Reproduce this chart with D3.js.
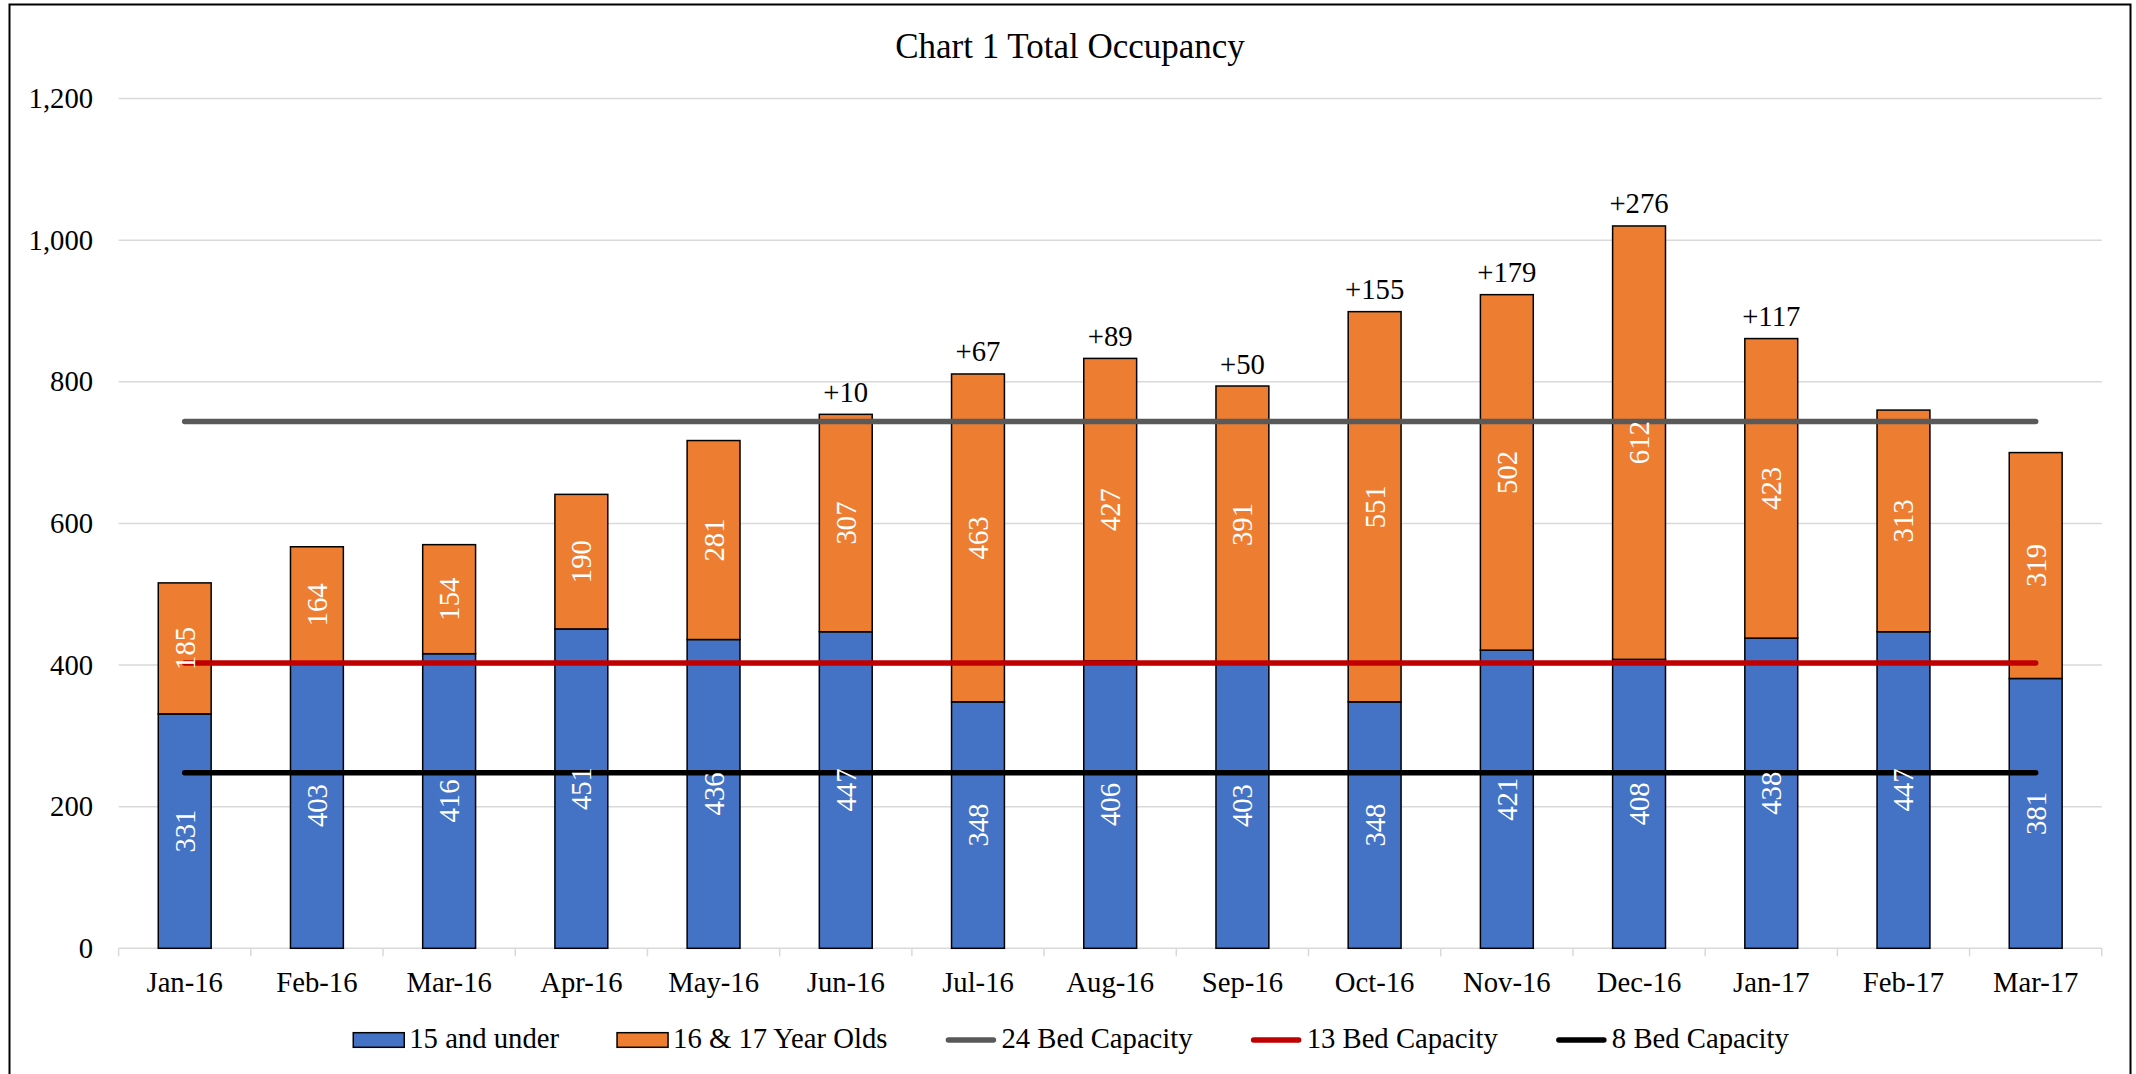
<!DOCTYPE html>
<html>
<head>
<meta charset="utf-8">
<script src="https://cdn.jsdelivr.net/npm/d3@7"></script>
<style>
  body { margin: 0; background: #fff; }
  svg text { font-family: "Liberation Serif", "Times New Roman", serif; }
</style>
</head>
<body>
<svg id="chart" width="2136" height="1074" font-family="Liberation Serif, serif"></svg>
<script>
// chart data
const months = ['Jan-16', 'Feb-16', 'Mar-16', 'Apr-16', 'May-16', 'Jun-16', 'Jul-16',
    'Aug-16', 'Sep-16', 'Oct-16', 'Nov-16', 'Dec-16', 'Jan-17', 'Feb-17', 'Mar-17'];
const under15 = [331, 403, 416, 451, 436, 447, 348, 406, 403, 348, 421, 408, 438, 447, 381];
const olds1617 = [185, 164, 154, 190, 281, 307, 463, 427, 391, 551, 502, 612, 423, 313, 319];
const overLabels = ['', '', '', '', '', '+10', '+67', '+89', '+50', '+155', '+179', '+276', '+117', '', ''];
const capacityNames = ['24 Bed Capacity', '13 Bed Capacity', '8 Bed Capacity'];
const capacityValues = [744, 403, 248];
const yTicks = [0, 200, 400, 600, 800, 1000, 1200];
const seriesNames = ['15 and under', '16 & 17 Year Olds'];

const barColors = ['#4472C4', '#ED7D31'];
const lineColors = ['#595959', '#C00000', '#000000'];
const fontSize = 28.7;
const serif = '"Liberation Serif", "Times New Roman", serif';

const svg = d3.select('#chart');

// outer frame
svg.append('rect')
    .attr('x', 9.5).attr('y', 4.5)
    .attr('width', 2121).attr('height', 1100)
    .attr('fill', 'none')
    .attr('stroke', '#000')
    .attr('stroke-width', 2);

const plotLeft = 118.6, plotRight = 2101.8;
const x = d3.scaleBand()
    .domain(months)
    .range([plotLeft, plotRight])
    .paddingInner(0.6)
    .paddingOuter(0.3);
const y = d3.scaleLinear()
    .domain([0, 1200])
    .range([948.3, 98.5]);
const bw = x.bandwidth();
const gap = (x.step() - bw) / 2;

// title
svg.append('text')
    .attr('x', 1070).attr('y', 58)
    .attr('text-anchor', 'middle')
    .attr('font-family', serif)
    .attr('font-size', 35)
    .text('Chart 1 Total Occupancy');

// gridlines
svg.append('g')
    .selectAll('line')
    .data(yTicks.filter(d => d > 0))
    .enter().append('line')
    .attr('x1', plotLeft).attr('x2', plotRight)
    .attr('y1', d => y(d)).attr('y2', d => y(d))
    .attr('stroke', '#D9D9D9')
    .attr('stroke-width', 1.5);

// y axis
const yAxis = svg.append('g')
    .attr('transform', 'translate(' + plotLeft + ',0)')
    .call(d3.axisLeft(y).tickValues(yTicks).tickFormat(d3.format(',')).tickSize(0).tickPadding(25.5));
yAxis.attr('font-family', serif);
yAxis.select('.domain').remove();
yAxis.selectAll('text').attr('font-size', fontSize).attr('fill', '#000');

// x axis
const xAxis = svg.append('g')
    .attr('transform', 'translate(0,' + y(0) + ')')
    .call(d3.axisBottom(x).tickSize(0).tickPadding(23));
xAxis.attr('font-family', serif);
xAxis.select('.domain').remove();
xAxis.selectAll('text').attr('font-size', fontSize).attr('fill', '#000');

svg.append('line')
    .attr('x1', plotLeft).attr('x2', plotRight)
    .attr('y1', y(0)).attr('y2', y(0))
    .attr('stroke', '#D9D9D9')
    .attr('stroke-width', 1.5);

const boundaries = months.map(m => x(m) - gap).concat([x(months[months.length - 1]) + bw + gap]);
svg.append('g')
    .selectAll('line')
    .data(boundaries)
    .enter().append('line')
    .attr('x1', d => d).attr('x2', d => d)
    .attr('y1', y(0)).attr('y2', y(0) + 8)
    .attr('stroke', '#D9D9D9')
    .attr('stroke-width', 1.5);

// stacked bars
const rows = months.map((m, i) => ({ month: m, a: under15[i], b: olds1617[i] }));
const stacked = d3.stack().keys(['a', 'b'])(rows);

const layers = svg.append('g')
    .selectAll('g')
    .data(stacked)
    .enter().append('g')
    .attr('fill', (d, i) => barColors[i]);

layers.selectAll('rect')
    .data(d => d)
    .enter().append('rect')
    .attr('x', d => x(d.data.month))
    .attr('width', bw)
    .attr('y', d => y(d[1]))
    .attr('height', d => y(d[0]) - y(d[1]))
    .attr('stroke', '#000')
    .attr('stroke-width', 1.5);

// capacity lines
const line = d3.line()
    .x(m => x(m) + bw / 2);
capacityValues.forEach((v, i) => {
    svg.append('path')
        .attr('d', line.y(() => y(v))(months))
        .attr('fill', 'none')
        .attr('stroke', lineColors[i])
        .attr('stroke-width', 5.5)
        .attr('stroke-linecap', 'round');
});

// values inside bars
stacked.forEach(layer => {
    svg.append('g')
        .selectAll('text')
        .data(layer)
        .enter().append('text')
        .attr('transform', d => 'translate(' + (x(d.data.month) + bw / 2) + ',' + ((y(d[0]) + y(d[1])) / 2) + ') rotate(-90)')
        .attr('text-anchor', 'middle')
        .attr('dominant-baseline', 'central')
        .attr('font-family', serif)
        .attr('font-size', fontSize)
        .attr('fill', '#fff')
        .text(d => d[1] - d[0]);
});

// over-capacity labels
svg.append('g')
    .selectAll('text')
    .data(rows)
    .enter().append('text')
    .attr('x', d => x(d.month) + bw / 2)
    .attr('y', d => y(d.a + d.b) - 12.5)
    .attr('text-anchor', 'middle')
    .attr('font-family', serif)
    .attr('font-size', fontSize)
    .attr('fill', '#000')
    .text((d, i) => overLabels[i]);

// legend
const legend = svg.append('g');
const items = seriesNames.map((n, i) => ({ name: n, type: 'bar', color: barColors[i] }))
    .concat(capacityNames.map((n, i) => ({ name: n, type: 'line', color: lineColors[i] })));
let lx = 0;
items.forEach(it => {
    const g = legend.append('g').attr('transform', 'translate(' + lx + ',0)');
    if (it.type === 'bar') {
        g.append('rect')
            .attr('x', 0).attr('y', 1032.7)
            .attr('width', 51).attr('height', 14.6)
            .attr('fill', it.color)
            .attr('stroke', '#000')
            .attr('stroke-width', 1.5);
    } else {
        g.append('line')
            .attr('x1', 3).attr('x2', 48)
            .attr('y1', 1040).attr('y2', 1040)
            .attr('stroke', it.color)
            .attr('stroke-width', 5.5)
            .attr('stroke-linecap', 'round');
    }
    const t = g.append('text')
        .attr('x', 56).attr('y', 1048)
        .attr('font-family', serif)
        .attr('font-size', fontSize)
        .attr('fill', '#000')
        .text(it.name);
    lx += 56 + t.node().getComputedTextLength() + 58;
});
const legendWidth = lx - 58;
legend.attr('transform', 'translate(' + (1071 - legendWidth / 2) + ',0)');
</script>
</body>
</html>
